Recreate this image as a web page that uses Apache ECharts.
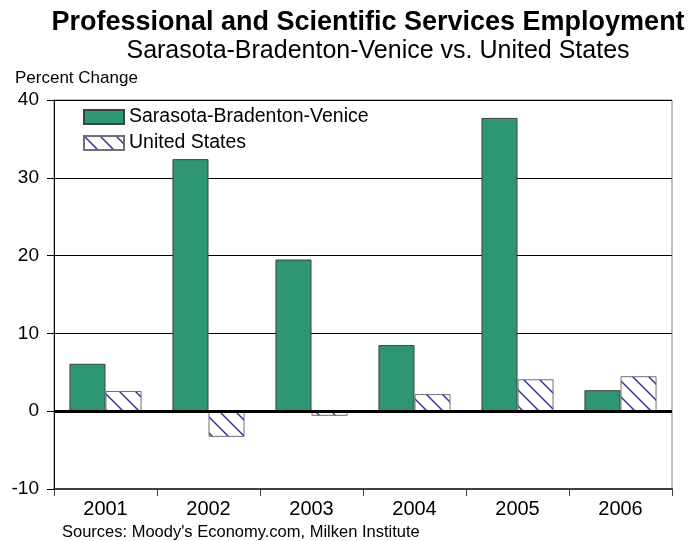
<!DOCTYPE html>
<html>
<head>
<meta charset="utf-8">
<script src="https://cdn.jsdelivr.net/npm/echarts@6/dist/echarts.min.js"></script>
<style>
  html, body { margin: 0; padding: 0; background: #fff; }
  #chart { width: 691px; height: 541px; }
</style>
</head>
<body>
<div id="chart"></div>
<script>
// Annual percent change in professional and scientific services employment
const years = ['2001', '2002', '2003', '2004', '2005', '2006'];
const metroValues = [6.1, 32.4, 19.5, 8.5, 37.7, 2.7];
const usValues = [2.6, -3.3, -0.6, 2.2, 4.1, 4.5];
const yTicks = { min: -10, max: 40, step: 10 };

const FONT = '"Liberation Sans", Arial, sans-serif';

// Diagonal hatch fill for the national series
function hatchPattern() {
  const size = 16;
  const c = document.createElement('canvas');
  c.width = size; c.height = size;
  const ctx = c.getContext('2d');
  ctx.fillStyle = '#ffffff';
  ctx.fillRect(0, 0, size, size);
  ctx.strokeStyle = '#333399';
  ctx.lineWidth = 1.5;
  ctx.beginPath();
  ctx.moveTo(-2, -2); ctx.lineTo(size + 2, size + 2);
  ctx.moveTo(-2, size - 2); ctx.lineTo(2, size + 2);
  ctx.moveTo(size - 2, -2); ctx.lineTo(size + 2, 2);
  ctx.stroke();
  return c;
}

const chart = echarts.init(document.getElementById('chart'), null, { renderer: 'canvas' });

chart.setOption({
  animation: false,
  backgroundColor: '#ffffff',
  textStyle: { fontFamily: FONT },
  title: [
    {
      text: 'Professional and Scientific Services Employment',
      left: 363, top: 4, textAlign: 'center',
      textStyle: { fontFamily: FONT, fontSize: 27, fontWeight: 'bold', color: '#000' }
    },
    {
      text: 'Sarasota-Bradenton-Venice vs. United States',
      left: 373, top: 34, textAlign: 'center',
      textStyle: { fontFamily: FONT, fontSize: 25, fontWeight: 'normal', color: '#000' }
    },
    {
      text: 'Percent Change',
      left: 10, top: 65,
      textStyle: { fontFamily: FONT, fontSize: 17, fontWeight: 'normal', color: '#000' }
    },
    {
      text: "Sources: Moody's Economy.com, Milken Institute",
      left: 57, top: 519,
      textStyle: { fontFamily: FONT, fontSize: 16.5, fontWeight: 'normal', color: '#000' }
    }
  ],
  legend: {
    orient: 'vertical',
    left: 83, top: 107,
    padding: 0,
    icon: 'rect',
    itemWidth: 40, itemHeight: 14, itemGap: 6,
    textStyle: { fontFamily: FONT, fontSize: 19.5, color: '#000' },
    data: ['Sarasota-Bradenton-Venice', 'United States']
  },
  grid: {
    left: 54, right: 19, top: 100, bottom: 52,
    show: true, borderColor: '#808080', borderWidth: 1, backgroundColor: '#fff'
  },
  xAxis: {
    type: 'category',
    data: years,
    position: 'bottom',
    axisLine: { onZero: false, lineStyle: { color: '#404040', width: 2 } },
    axisTick: { show: true, length: 7, interval: 0, lineStyle: { color: '#404040' } },
    axisLabel: { fontFamily: FONT, fontSize: 20, color: '#000', margin: 10, interval: 0 },
    splitLine: { show: false }
  },
  yAxis: {
    type: 'value',
    min: yTicks.min, max: yTicks.max, interval: yTicks.step,
    axisLine: { show: true, lineStyle: { color: '#000', width: 1 } },
    axisTick: { show: true, length: 7, lineStyle: { color: '#000' } },
    axisLabel: { fontFamily: FONT, fontSize: 19, color: '#000', margin: 15 },
    splitLine: { show: true, lineStyle: { color: '#000', width: 1 } }
  },
  series: [
    {
      name: 'Sarasota-Bradenton-Venice',
      type: 'bar',
      data: metroValues,
      barGap: '0%',
      barCategoryGap: '30%',
      itemStyle: { color: '#2E9575', borderColor: '#404040', borderWidth: 1 },
      markLine: {
        silent: true,
        symbol: 'none',
        label: { show: false },
        lineStyle: { color: '#000', width: 3, type: 'solid' },
        data: [{ yAxis: 0 }]
      },
      z: 2
    },
    {
      name: 'United States',
      type: 'bar',
      data: usValues,
      barGap: '0%',
      barCategoryGap: '30%',
      itemStyle: {
        color: { image: hatchPattern(), repeat: 'repeat' },
        borderColor: '#707070', borderWidth: 1
      },
      z: 2
    }
  ]
});
</script>
</body>
</html>
